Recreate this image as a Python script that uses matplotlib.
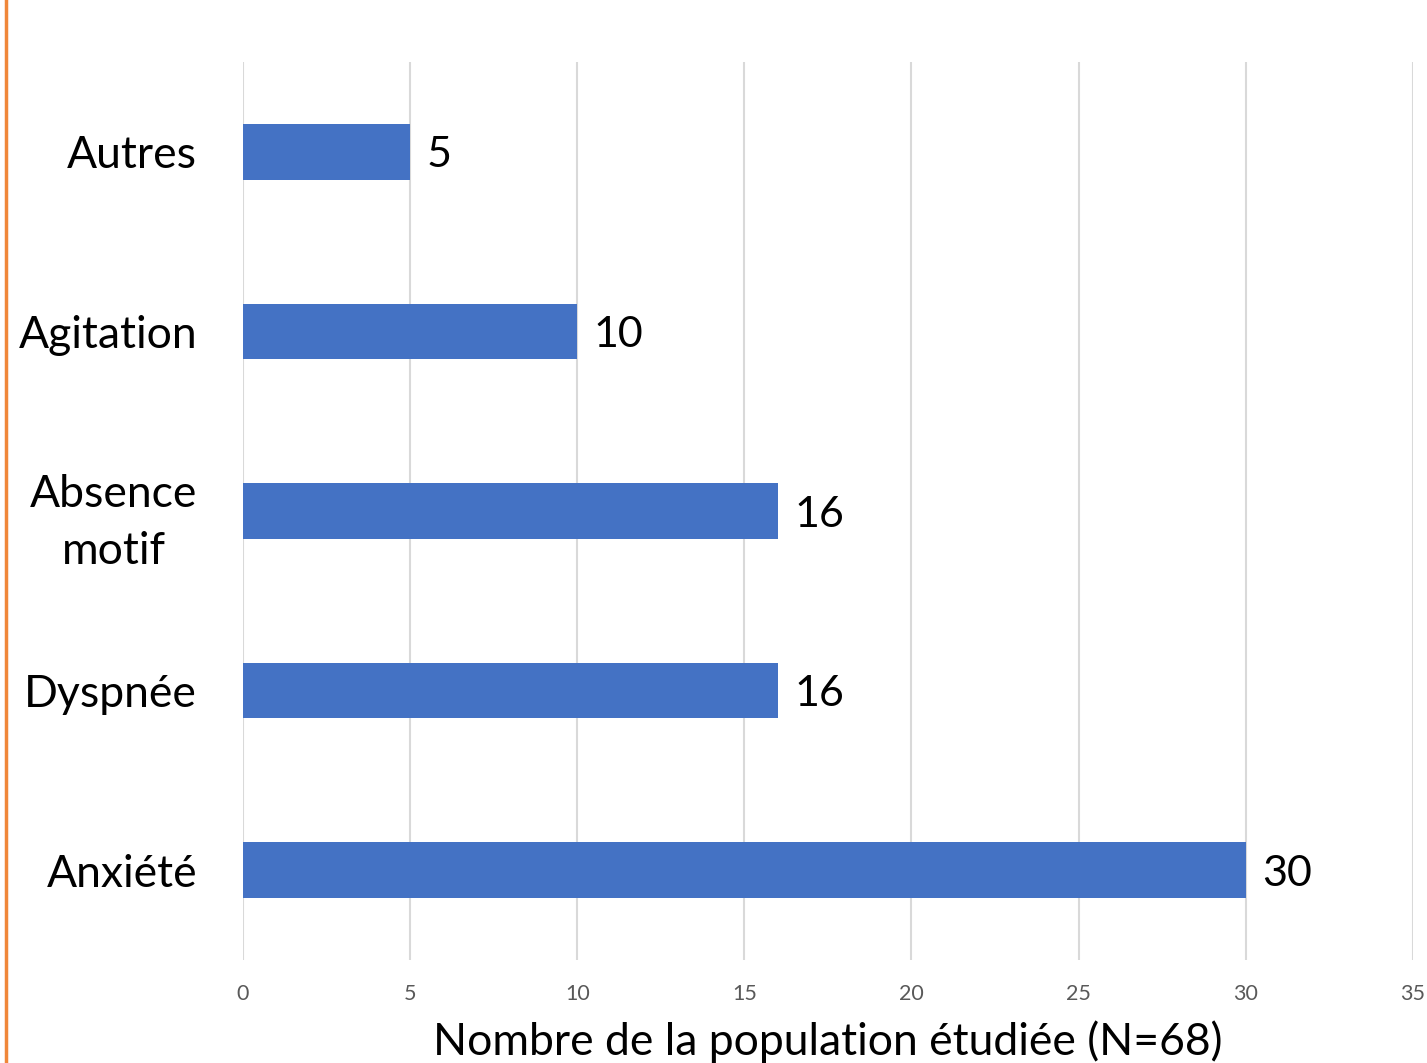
import matplotlib
matplotlib.use('Agg')
import matplotlib.pyplot as plt
from matplotlib.lines import Line2D

plt.rcParams['font.family'] = ['Lato', 'DejaVu Sans']

motifs = ['Anxiété', 'Dyspnée', 'Absence\nmotif', 'Agitation', 'Autres']
effectifs = [30, 16, 16, 10, 5]
xticks = [0, 5, 10, 15, 20, 25, 30, 35]

fig = plt.figure(figsize=(14.27, 10.63), dpi=100)
ax = fig.add_axes([0.1703, 0.0969, 0.8197, 0.8448])

pos = range(len(motifs))
ax.barh(pos, effectifs, height=0.31, color='#4472C4', zorder=3)
for y, v in zip(pos, effectifs):
    ax.text(v + 0.5, y - 0.02, str(v), va='center', ha='left', fontsize=31, color='black')

ax.set_xlim(0, 35)
ax.set_ylim(-0.5, 4.5)
ax.set_xticks(xticks)
ax.set_xticklabels([str(t) for t in xticks], fontsize=15.5, color='#595959')
ax.set_yticks(list(pos))
ax.set_yticklabels(motifs, fontsize=32, multialignment='center', linespacing=1.5)
ax.tick_params(axis='x', length=0, pad=17)
ax.tick_params(axis='y', length=0, pad=33)
ax.grid(axis='x', color='#D9D9D9', linewidth=1.5, zorder=0)
for s in ax.spines.values():
    s.set_visible(False)

ax.set_xlabel('Nombre de la population étudiée (N=68)', fontsize=32, labelpad=12)

# orange border line on the left
fig.add_artist(Line2D([0.0045, 0.0045], [0, 1], transform=fig.transFigure,
                      color='#F0873A', linewidth=2.5))

fig.savefig('out.png', dpi=100)
